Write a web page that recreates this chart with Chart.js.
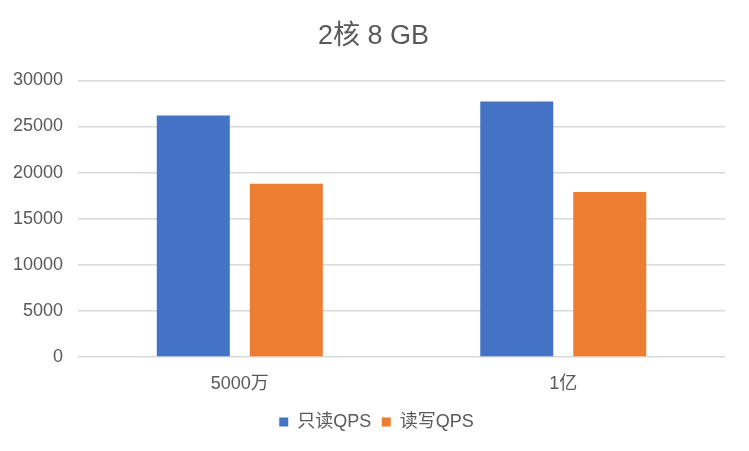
<!DOCTYPE html>
<html>
<head>
<meta charset="utf-8">
<script src="https://cdn.jsdelivr.net/npm/chart.js@4/dist/chart.umd.min.js"></script>
<style>
  html, body { margin: 0; padding: 0; background: #fff; }
  .graph-container { width: 749px; height: 451px; }
</style>
</head>
<body>
<div class="graph-container">
  <canvas id="chart" width="749" height="451"></canvas>
</div>
<script>
const title = '2核 8 GB';
const categories = ['5000万', '1亿'];
const readOnlyQps = [26200, 27700];
const readWriteQps = [18800, 17900];
const yTicks = [0, 5000, 10000, 15000, 20000, 25000, 30000];

const fontFamily = '"Liberation Sans", "Noto Sans CJK SC", sans-serif';
const textColor = '#595959';

// title and legend sit centred on the whole picture, not on the padded area
const centreShift = {
    id: 'centreShift',
    afterLayout(chart) {
        if (chart.titleBlock) {
            chart.titleBlock.left += 12;
            chart.titleBlock.right += 12;
        }
        if (chart.legend) {
            chart.legend.left += 15;
            chart.legend.right += 15;
        }
    },
};

const ctx = document.getElementById('chart').getContext('2d');
new Chart(ctx, {
    type: 'bar',
    data: {
        labels: categories,
        datasets: [{
            label: '只读QPS',
            data: readOnlyQps,
            backgroundColor: '#4472C4',
        }, {
            label: '读写QPS',
            data: readWriteQps,
            backgroundColor: '#ED7D31',
        }],
    },
    options: {
        responsive: false,
        animation: false,
        categoryPercentage: 0.575,
        barPercentage: 0.785,
        layout: {
            padding: { left: -2, right: 24, bottom: 10 },
        },
        plugins: {
            title: {
                display: true,
                text: title,
                color: textColor,
                font: { family: fontFamily, size: 27, weight: 'normal' },
                padding: { top: 20, bottom: 28 },
            },
            legend: {
                position: 'bottom',
                labels: {
                    color: textColor,
                    font: { family: fontFamily, size: 18 },
                    boxWidth: 9,
                    boxHeight: 9,
                    padding: 10.5,
                },
            },
            tooltip: { enabled: false },
        },
        scales: {
            x: {
                grid: { display: false },
                border: { display: false },
                ticks: {
                    color: textColor,
                    font: { family: fontFamily, size: 18 },
                    padding: 8,
                },
            },
            y: {
                min: yTicks[0],
                max: yTicks[yTicks.length - 1],
                afterBuildTicks: axis => {
                    axis.ticks = yTicks.map(v => ({ value: v }));
                },
                grid: { color: '#D9D9D9', lineWidth: 1.5, drawTicks: false },
                border: { display: false },
                ticks: {
                    color: textColor,
                    font: { family: fontFamily, size: 18 },
                    padding: 15,
                    callback: value => String(value),
                },
            },
        },
    },
    plugins: [centreShift],
});
</script>
</body>
</html>
